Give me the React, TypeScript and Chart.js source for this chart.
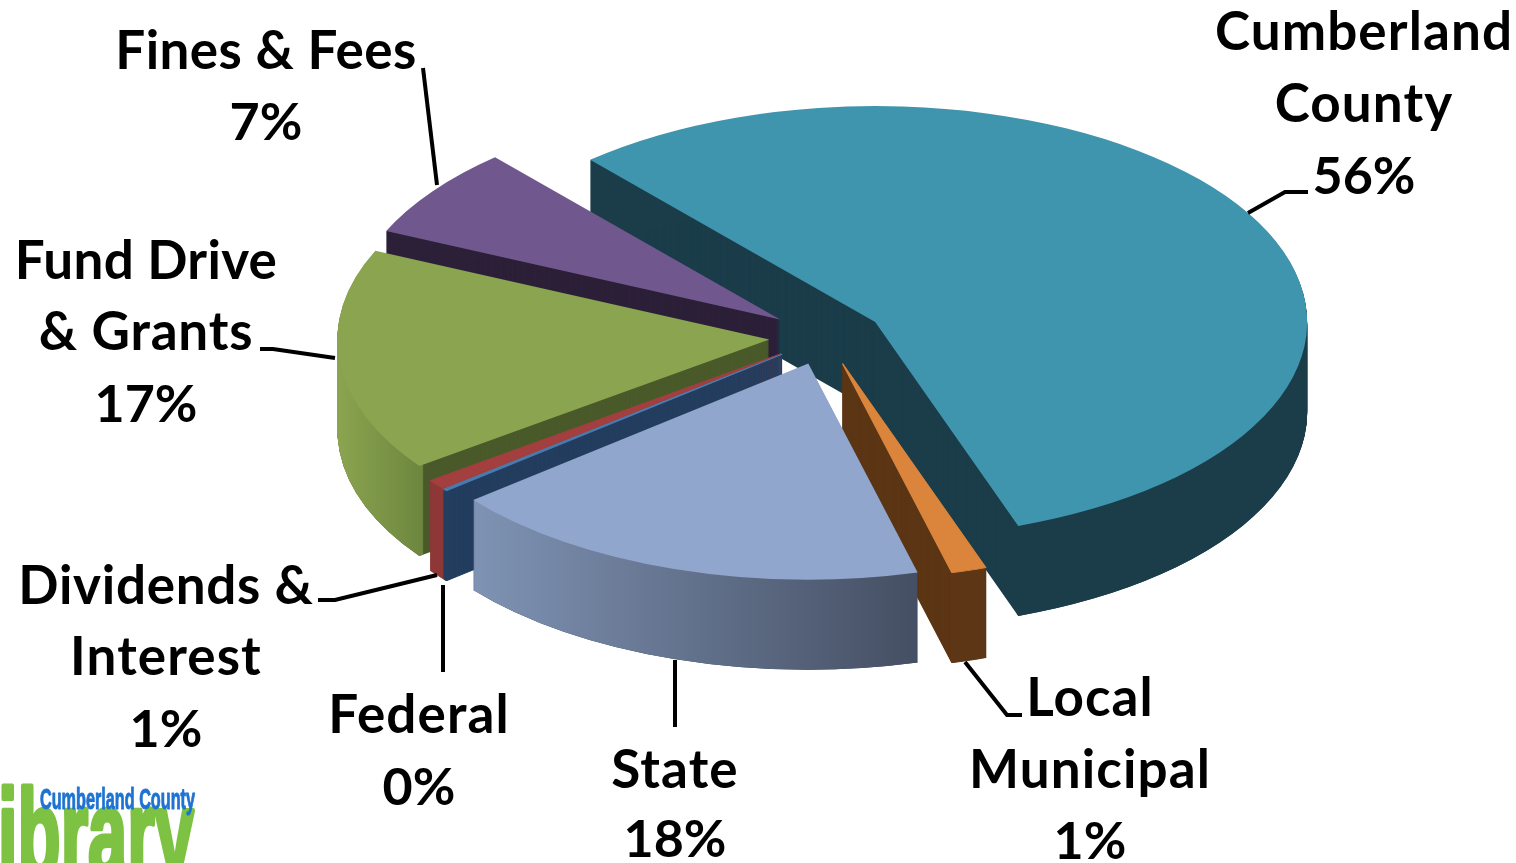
import React, { useEffect, useRef } from "react";
import { Chart, registerables, ArcElement } from "chart.js";

Chart.register(...registerables);

const categories = ["Cumberland County", "Local Municipal", "State", "Federal", "Dividends & Interest", "Fund Drive & Grants", "Fines & Fees"];
const values = [56.1, 1.3, 18.2, 0.15, 0.75, 16.7, 6.8];
const percentLabels = ["56%", "1%", "18%", "0%", "1%", "17%", "7%"];
const topColors = ["#4095ae", "#db853c", "#91a6cd", "#4a7cb0", "#a33f3f", "#8aa44f", "#70578d"];
const cutColors = ["#1b3d4a", "#5c3615", "#2a3a55", "#243e5f", "#8e3737", "#4a5a2a", "#2c2038"];
const wallStops = [
  ["#1b3d4a", "#1b3d4a"],
  ["#5c3615", "#5c3615"],
  ["#7f93b4", "#454f63"],
  ["#243e5f", "#243e5f"],
  ["#8e3737", "#8e3737"],
  ["#8ba550", "#6e873f"],
  ["#2c2038", "#2c2038"],
];
const wallRanges = [[590, 1307], [840, 980], [472, 918], [443, 472], [430, 444], [335, 420], [388, 780]];
const paintOrder = [0, 6, 5, 4, 3, 1, 2];

const GEO = { cx: 826, cy: 336.5, r: 432, ratio: 0.5, depth: 90, explode: 57 };
const WORD_FONT = 'bold 53px Lato, "Open Sans", sans-serif';
const PCT_FONT = 'bold 52px Lato, "Open Sans", sans-serif';
const tracking: Record<string, number> = { "Fines & Fees": 0.4, "Fund Drive": 0.3, "Dividends &": 0.7, "& Grants": 0.8 };

const labelLines: [number, string[], number[]][] = [
  [1364, ["Cumberland", "County", percentLabels[0]], [50, 122, 194]],
  [1090, ["Local", "Municipal", percentLabels[1]], [716, 788, 859]],
  [675, ["State", percentLabels[2]], [788, 857]],
  [419, ["Federal", percentLabels[3]], [733, 805]],
  [166, ["Dividends &", "Interest", percentLabels[4]], [604, 675, 747]],
  [146, ["Fund Drive", "& Grants", percentLabels[5]], [279, 350, 422]],
  [266, ["Fines & Fees", percentLabels[6]], [69, 140]],
];
const leaders = [
  [[1248, 213], [1285, 192], [1308, 192]],
  [[965, 662], [1007, 715], [1022, 715]],
  [[675, 660], [675, 727]],
  [[443, 585], [443, 672]],
  [[437, 575], [335, 600], [318, 600]],
  [[335, 358], [273, 349], [260, 349]],
  [[437, 185], [423, 68]],
];

const arcOptions = (backgroundColor: any, borderWidth: number) => ({
  backgroundColor,
  borderColor: backgroundColor,
  borderWidth,
  borderAlign: "center",
  borderJoinStyle: "round",
  borderRadius: 0,
  offset: 0,
  spacing: 0,
  circular: true,
  angle: undefined,
});

const pie3d = {
  id: "pie3d",
  beforeDatasetsDraw(chart: any) {
    const ctx: CanvasRenderingContext2D = chart.ctx;
    const arcs = chart.getDatasetMeta(0).data;
    const k = GEO.r / arcs[0].outerRadius;

    const place = (arc: any, dy: number) => {
      const mid = (arc.startAngle + arc.endAngle) / 2;
      ctx.translate(GEO.cx, GEO.cy + dy);
      ctx.scale(k, k * GEO.ratio);
      ctx.translate(-arc.x, -arc.y);
      ctx.translate((Math.cos(mid) * GEO.explode) / k, (Math.sin(mid) * GEO.explode) / k);
    };
    const paint = (arc: any, dy: number, color: any, inner = 0, border = 0) => {
      const el: any = new (ArcElement as any)({
        x: arc.x,
        y: arc.y,
        startAngle: arc.startAngle,
        endAngle: arc.endAngle,
        circumference: arc.circumference,
        innerRadius: inner,
        outerRadius: arc.outerRadius,
        options: arcOptions(color, border),
      });
      ctx.save();
      place(arc, dy);
      el.draw(ctx);
      ctx.restore();
    };

    paintOrder.forEach((i) => {
      const arc = arcs[i];
      const thin = values[i] < 2 ? 1.5 : 0;
      for (let d = GEO.depth; d > 0; d--) paint(arc, d, cutColors[i], 0, thin);
      const mid = (arc.startAngle + arc.endAngle) / 2;
      const shift = (Math.cos(mid) * GEO.explode) / k;
      const g = ctx.createLinearGradient(
        arc.x + (wallRanges[i][0] - GEO.cx) / k - shift,
        0,
        arc.x + (wallRanges[i][1] - GEO.cx) / k - shift,
        0
      );
      g.addColorStop(0, wallStops[i][0]);
      g.addColorStop(1, wallStops[i][1]);
      for (let d = GEO.depth; d > 0; d--) paint(arc, d, g, arc.outerRadius - 5);
      paint(arc, 0, topColors[i], 0, thin);
    });

    ctx.save();
    ctx.strokeStyle = "#000";
    ctx.lineWidth = 4;
    ctx.lineJoin = "miter";
    leaders.forEach((pts) => {
      ctx.beginPath();
      pts.forEach(([x, y], j) => (j ? ctx.lineTo(x, y) : ctx.moveTo(x, y)));
      ctx.stroke();
    });
    ctx.fillStyle = "#000";
    ctx.textAlign = "center";
    ctx.textBaseline = "alphabetic";
    labelLines.forEach(([x, lines, ys]) =>
      lines.forEach((t, j) => {
        const isPct = t.endsWith("%");
        ctx.font = isPct ? PCT_FONT : WORD_FONT;
        const sp = isPct ? 0 : tracking[t] ?? 1.1;
        (ctx as any).letterSpacing = `${sp}px`;
        ctx.fillText(t, x, ys[j]);
      })
    );
    (ctx as any).letterSpacing = "0px";

    ctx.textAlign = "left";
    ctx.lineJoin = "round";
    ctx.fillStyle = "#7dc242";
    ctx.strokeStyle = "#7dc242";
    ctx.lineWidth = 5;
    ctx.font = 'bold 124px "Liberation Sans Narrow", sans-serif';
    ctx.strokeText("ibrary", -2, 876, 196);
    ctx.fillText("ibrary", -2, 876, 196);
    ctx.fillStyle = "#1e73d2";
    ctx.strokeStyle = "#1e73d2";
    ctx.lineWidth = 1;
    ctx.font = 'bold 29px "Liberation Sans Narrow", sans-serif';
    ctx.strokeText("Cumberland County", 40, 809, 155);
    ctx.fillText("Cumberland County", 40, 809, 155);
    ctx.restore();
    return false;
  },
};

export default function App() {
  const ref = useRef<HTMLCanvasElement>(null);
  useEffect(() => {
    const chart = new Chart(ref.current as HTMLCanvasElement, {
      type: "pie",
      data: {
        labels: categories,
        datasets: [{ data: values, backgroundColor: topColors, borderWidth: 0 }],
      },
      options: {
        animation: false,
        responsive: false,
        rotation: -41.3,
        layout: { padding: 0 },
        plugins: { legend: { display: false }, tooltip: { enabled: false } },
      },
      plugins: [pie3d],
    } as any);
    return () => chart.destroy();
  }, []);
  return (
    <div style={{ position: "fixed", left: 0, top: 0, width: 1516, height: 863, background: "#fff", overflow: "hidden" }}>
      <canvas ref={ref} width={1516} height={863} style={{ display: "block" }} />
    </div>
  );
}
